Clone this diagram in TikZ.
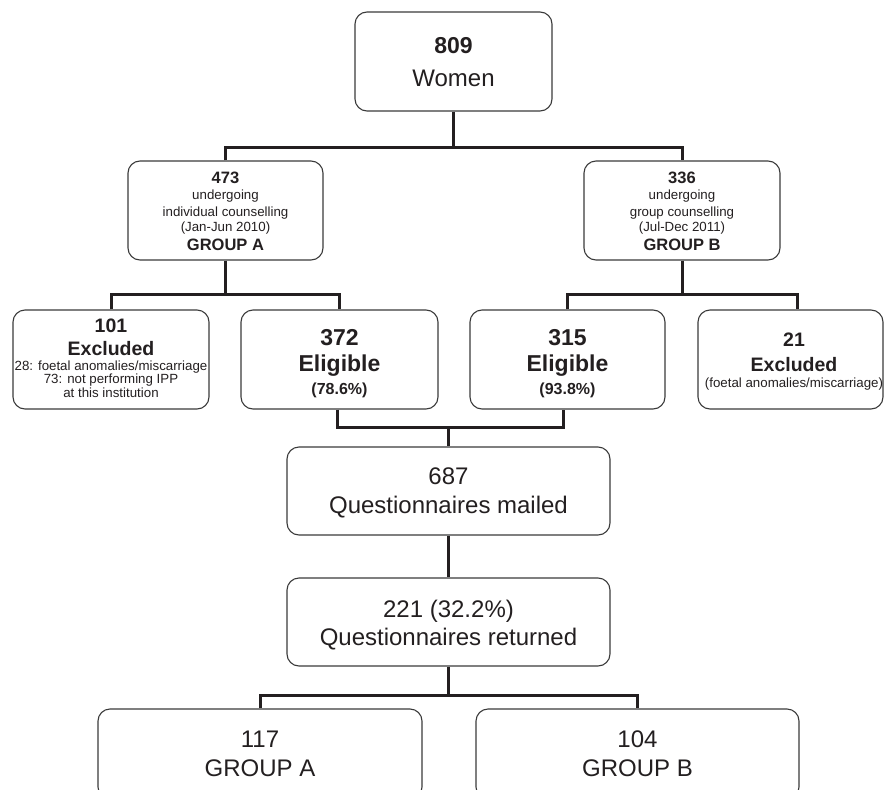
\documentclass[tikz,border=0pt]{standalone}
\usepackage{fontspec}
\setmainfont{Liberation Sans}
\definecolor{ink}{HTML}{231F20}
\definecolor{edge}{HTML}{3A3A3A}
\tikzset{
  box/.style={draw=edge, line width=1.1pt, rounded corners=12pt, inner sep=0pt},
  conn/.style={draw=ink, line width=3pt, line join=miter},
  txt/.style={anchor=base, inner sep=0pt, text=ink},
  bigb/.style={txt, font=\fontsize{23pt}{27pt}\selectfont\bfseries},
  bigr/.style={txt, font=\fontsize{24pt}{27pt}\selectfont},
  midb/.style={txt, font=\fontsize{19.5pt}{23pt}\selectfont\bfseries},
  pctb/.style={txt, font=\fontsize{16pt}{19pt}\selectfont\bfseries},
  smlb/.style={txt, font=\fontsize{16.5pt}{19pt}\selectfont\bfseries},
  smlr/.style={txt, font=\fontsize{13.3pt}{15pt}\selectfont},
}
\begin{document}
\begin{tikzpicture}[x=1pt, y=-1pt]
\useasboundingbox (0,0) rectangle (884,790);
\clip (0,0) rectangle (884,790);
% boxes
\node[box, minimum width=197pt, minimum height=99pt] (top) at (453.5,61.5) {};
\node[box, minimum width=195pt, minimum height=99pt] (gA) at (225.5,210.5) {};
\node[box, minimum width=196pt, minimum height=99pt] (gB) at (682,210.5) {};
\node[box, minimum width=196pt, minimum height=99pt] (exA) at (111,359.5) {};
\node[box, minimum width=197pt, minimum height=99pt] (elA) at (339.5,359.5) {};
\node[box, minimum width=195pt, minimum height=99pt] (elB) at (567.5,359.5) {};
\node[box, minimum width=185pt, minimum height=99pt] (exB) at (790.5,359.5) {};
\node[box, minimum width=323pt, minimum height=88pt] (mail) at (448.5,491) {};
\node[box, minimum width=323pt, minimum height=88pt] (ret) at (448.5,622) {};
\node[box, minimum width=324pt, minimum height=90pt] (oA) at (260,754) {};
\node[box, minimum width=323pt, minimum height=90pt] (oB) at (637.5,754) {};
% texts
\node[bigb] (t1) at (453.5,53) {809};
\node[bigr] (t2) at (453.5,86) {Women};

\node[smlb] (a1) at (225.5,183) {473};
\node[smlr] (a2) at (225.5,199) {undergoing};
\node[smlr] (a3) at (225.5,216) {individual counselling};
\node[smlr] (a4) at (225.5,231) {(Jan-Jun 2010)};
\node[smlb] (a5) at (225.5,250) {GROUP A};

\node[smlb] (b1) at (682,183) {336};
\node[smlr] (b2) at (682,199) {undergoing};
\node[smlr] (b3) at (682,216) {group counselling};
\node[smlr] (b4) at (682,231) {(Jul-Dec 2011)};
\node[smlb] (b5) at (682,250) {GROUP B};

\node[midb] (c1) at (111,332) {101};
\node[midb] (c2) at (111,355) {Excluded};
\node[smlr] (c3) at (111,370) {28: foetal anomalies/miscarriage};
\node[smlr] (c4) at (111,383.5) {73: not performing IPP};
\node[smlr] (c5) at (111,397) {at this institution};

\node[bigb] (d1) at (339.5,345) {372};
\node[bigb] (d2) at (339.5,371) {Eligible};
\node[pctb] (d3) at (339.5,394) {(78.6\%)};

\node[bigb] (e1) at (567.5,345) {315};
\node[bigb] (e2) at (567.5,371) {Eligible};
\node[pctb] (e3) at (567.5,394) {(93.8\%)};

\node[midb] (f1) at (794,346) {21};
\node[midb] (f2) at (794,371) {Excluded};
\node[smlr] (f3) at (794,387) {(foetal anomalies/miscarriage)};

\node[bigr] (m1) at (448.5,484) {687};
\node[bigr] (m2) at (448.5,513) {Questionnaires mailed};

\node[bigr] (r1) at (448.5,617) {221 (32.2\%)};
\node[bigr] (r2) at (448.5,645) {Questionnaires returned};

\node[bigr] (g1) at (260,747) {117};
\node[bigr] (g2) at (260,776) {GROUP A};
\node[bigr] (h1) at (637.5,747) {104};
\node[bigr] (h2) at (637.5,776) {GROUP B};
% connectors
\coordinate (j1) at (453.5,147);
\coordinate (j2) at (225.5,294);
\coordinate (j3) at (682,294);
\coordinate (j4) at (448.5,427);
\coordinate (j5) at (448.5,695);
\draw[conn] (top.south) -- (j1);
\draw[conn] (gA.north) |- (j1) -| (gB.north);
\draw[conn] (gA.south) -- (j2);
\draw[conn] (exA.north) |- (j2) -| (elA.north);
\draw[conn] (gB.south) -- (j3);
\draw[conn] (elB.north) |- (j3) -| ([xshift=6.5pt]exB.north);
\draw[conn] ([xshift=-2.5pt]elA.south) |- (j4) -| ([xshift=-4pt]elB.south);
\draw[conn] (j4) -- (mail.north);
\draw[conn] (mail.south) -- (ret.north);
\draw[conn] (ret.south) -- (j5);
\draw[conn] (oA.north) |- (j5) -| (oB.north);
\end{tikzpicture}
\end{document}
